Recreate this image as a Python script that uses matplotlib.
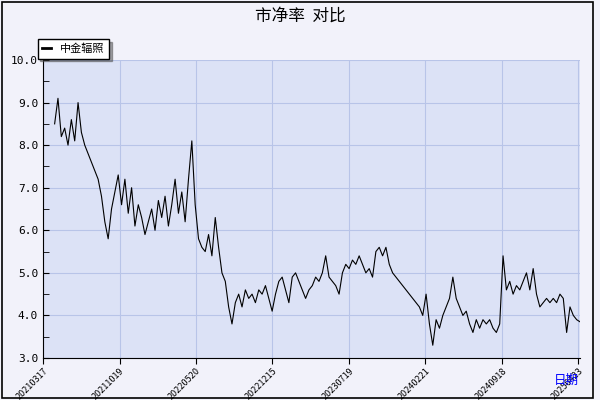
import numpy as np
import matplotlib.pyplot as plt
from matplotlib.patches import Rectangle

plt.rcParams['font.family'] = ['Noto Sans CJK SC', 'DejaVu Sans']

tick_labels = ["20210317", "20211019", "20220520", "20221215", "20230719",
               "20240221", "20240918", "20250423"]
pb_values = [8.5, 9.1, 8.2, 8.4, 8.0, 8.6, 8.1, 9.0, 8.3, 8.0, 7.8, 7.6, 7.4, 7.2,
             6.8, 6.2, 5.8, 6.5, 6.9, 7.3, 6.6, 7.2, 6.4, 7.0, 6.1, 6.6, 6.3, 5.9,
             6.2, 6.5, 6.0, 6.7, 6.3, 6.8, 6.1, 6.6, 7.2, 6.4, 6.9, 6.2, 7.2, 8.1,
             6.6, 5.8, 5.6, 5.5, 5.9, 5.4, 6.3, 5.6, 5.0, 4.8, 4.2, 3.8, 4.3, 4.5,
             4.2, 4.6, 4.4, 4.5, 4.3, 4.6, 4.5, 4.7, 4.4, 4.1, 4.5, 4.8, 4.9, 4.6,
             4.3, 4.9, 5.0, 4.8, 4.6, 4.4, 4.6, 4.7, 4.9, 4.8, 5.0, 5.4, 4.9, 4.8,
             4.7, 4.5, 5.0, 5.2, 5.1, 5.3, 5.2, 5.4, 5.2, 5.0, 5.1, 4.9, 5.5, 5.6,
             5.4, 5.6, 5.2, 5.0, 4.9, 4.8, 4.7, 4.6, 4.5, 4.4, 4.3, 4.2, 4.0, 4.5,
             3.8, 3.3, 3.9, 3.7, 4.0, 4.2, 4.4, 4.9, 4.4, 4.2, 4.0, 4.1, 3.8, 3.6,
             3.9, 3.7, 3.9, 3.8, 3.9, 3.7, 3.6, 3.8, 5.4, 4.6, 4.8, 4.5, 4.7, 4.6,
             4.8, 5.0, 4.6, 5.1, 4.5, 4.2, 4.3, 4.4, 4.3, 4.4, 4.3, 4.5, 4.4, 3.6,
             4.2, 4.0, 3.9, 3.85]

tick_step = 145
x_max = tick_step * (len(tick_labels) - 1) + 3
days = np.linspace(22, x_max, len(pb_values))

fig = plt.figure(figsize=(6, 4), dpi=100, facecolor='#f2f2fa')
ax = fig.add_axes([0.0717, 0.105, 0.895, 0.745])
ax.set_facecolor('#dce2f6')
ax.plot(days, pb_values, color='black', lw=0.8, label='中金辐照')
ax.set_xlim(0, x_max)
ax.set_ylim(3, 10)
ax.set_yticks(np.arange(3, 10.1, 1))
ax.set_yticklabels([f"{v:.1f}" for v in np.arange(3, 10.1, 1)], fontsize=8, family='DejaVu Sans Mono')
ax.set_yticks(np.arange(3.5, 10, 1), minor=True)
ax.set_xticks(np.arange(len(tick_labels)) * tick_step)
ax.set_xticklabels(tick_labels, rotation=45, ha='right', va='top', fontsize=6.5,
                   rotation_mode='anchor')
ax.grid(True, color='#b8c4e8', lw=0.8)
for s in ['top', 'right']:
    ax.spines[s].set_visible(False)
ax.tick_params(direction='in', length=4, which='both')
ax.tick_params(axis='x', direction='out', pad=2)

fig.text(0.5, 0.96, '市净率  对比', ha='center', va='center', fontsize=12)
fig.text(0.965, 0.04, '日期', ha='right', color='blue', fontsize=9)
leg = ax.legend(loc='lower left', bbox_to_anchor=(-0.01, 1.005), frameon=True,
                fancybox=False, shadow=True, fontsize=8, handlelength=0.8,
                borderaxespad=0)
leg.get_frame().set_edgecolor('black')
for h in leg.get_lines():
    h.set_linewidth(2)
fig.patches.append(Rectangle((0.003, 0.005), 0.985, 0.99, transform=fig.transFigure,
                             fill=False, edgecolor='black', lw=1.2))
fig.savefig('out.png')
